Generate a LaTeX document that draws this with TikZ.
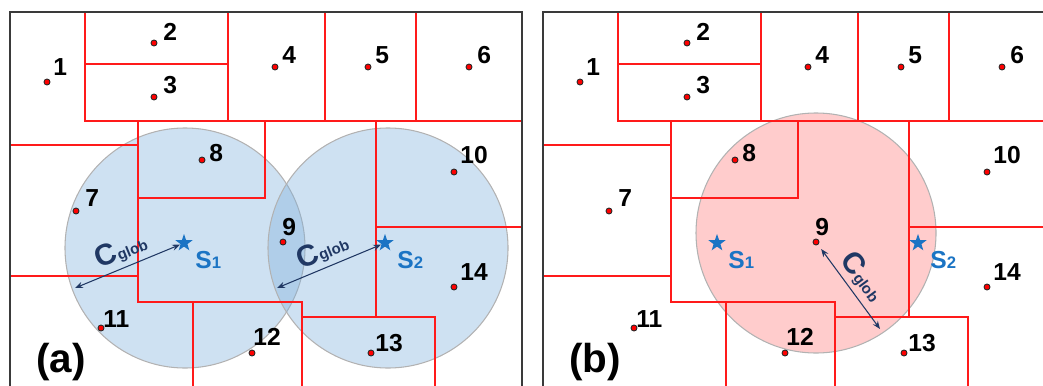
\documentclass[tikz,border=0pt]{standalone}
\usepackage{fontspec}
\setmainfont{Liberation Sans}
\usetikzlibrary{shapes.geometric,arrows.meta}
\definecolor{wallred}{HTML}{FF1A1A}
\definecolor{frameink}{HTML}{3A3A3A}
\definecolor{zoneblue}{HTML}{7FB0DC}
\definecolor{zonepink}{HTML}{FFCCCC}
\definecolor{siteblue}{HTML}{1B74C4}
\definecolor{navy}{HTML}{203864}
\newcommand\cglobtext{{\fontsize{17}{17}\selectfont C}{\fontsize{8.5}{9}\selectfont glob}}

\begin{document}
\begin{tikzpicture}[x=0.02cm,y=-0.02cm,
  wall/.style={wallred,line width=1.1pt},
  frame/.style={frameink,line width=1.6pt},
  zone/.style={draw=gray!60,line width=0.6pt},
  pt/.style={circle,fill=red,draw=black!85,line width=0.5pt,minimum size=0.12cm,inner sep=0pt},
  num/.style={anchor=base west,inner sep=0pt,font=\fontsize{14}{16}\selectfont\bfseries},
  site/.style={star,star points=5,star point ratio=2.5,fill=siteblue,minimum size=0.36cm,inner sep=0pt},
  sitelbl/.style={anchor=base west,inner sep=0pt,text=siteblue,font=\bfseries},
  tag/.style={anchor=base west,inner sep=0pt,font=\fontsize{23}{25}\selectfont\bfseries},
  radius arrow/.style={{Stealth[length=4.5pt,width=3.5pt]}-{Stealth[length=4.5pt,width=3.5pt]},navy,line width=0.6pt},
  cglob/.style={text=navy,font=\bfseries,sloped,above,midway,inner sep=2.5pt}]

\useasboundingbox (0,0) rectangle (1043,385);
\clip (0,0) rectangle (1043,385);

% neighbourhoods of radius C_glob
\filldraw[zone,fill=zoneblue,fill opacity=0.38] (185,248) circle[radius=120];
\filldraw[zone,fill=zoneblue,fill opacity=0.38] (388,248) circle[radius=120];
\filldraw[zone,fill=zonepink] (816,233) circle[radius=120];

% the two panels share the same partition
\foreach \dx/\pn in {0/a,533/b}{
  \begin{scope}[shift={(\dx,0)}]
    \draw[wall] (85,12) -- (85,121) -- (522,121);
    \draw[wall] (85,64) -- (228,64);
    \draw[wall] (228,12) -- (228,121);
    \draw[wall] (325,12) -- (325,121);
    \draw[wall] (416,12) -- (416,121);
    \draw[wall] (10,145) -- (138,145);
    \draw[wall] (138,121) -- (138,302) -- (302,302) -- (302,400);
    \draw[wall] (138,198) -- (265,198) -- (265,121);
    \draw[wall] (376,121) -- (376,317);
    \draw[wall] (376,227) -- (522,227);
    \draw[wall] (10,276) -- (138,276);
    \draw[wall] (193,302) -- (193,400);
    \draw[wall] (302,317) -- (435,317) -- (435,400);
    \draw[frame] (10,400) -- (10,12) -- (522,12) -- (522,400);
    \foreach \n/\px/\py/\lx/\ly in {1/47/82/53/75, 2/154/43/163/41, 3/154/97/163/93,
        4/275/67/282/64, 5/368/67/375/64, 6/469/67/477/64, 7/76/211/85/206,
        8/202/160/209/161, 9/283/242/282/235, 10/454/172/460/163,
        11/101/328/103/327, 12/252/353/253/345, 13/371/353/375/351, 14/454/287/460/280}{
      \node[pt] (p\n\pn) at (\px,\py) {};
      \node[num] at (\lx,\ly) {\n};
    }
    \node[site] (s1\pn) at (184,243) {};
    \node[site] (s2\pn) at (385,243) {};
    \node[sitelbl] at (195,268) {{\fontsize{14}{16}\selectfont S}{\fontsize{9.5}{10}\selectfont 1}};
    \node[sitelbl] at (397,268) {{\fontsize{14}{16}\selectfont S}{\fontsize{9.5}{10}\selectfont 2}};
    \node[tag] at (36,372) {(\pn)};
  \end{scope}
}

% radius arrows
\coordinate (ra) at (75,288);
\coordinate (rb) at (277,288);
\coordinate (rc) at (880,329);
\draw[radius arrow] (ra) -- (s1a) node[cglob] {\cglobtext};
\draw[radius arrow] (rb) -- (s2a) node[cglob] {\cglobtext};
\draw[radius arrow,shorten <=3pt] (p9b) -- (rc) node[cglob] {\cglobtext};
\end{tikzpicture}
\end{document}
